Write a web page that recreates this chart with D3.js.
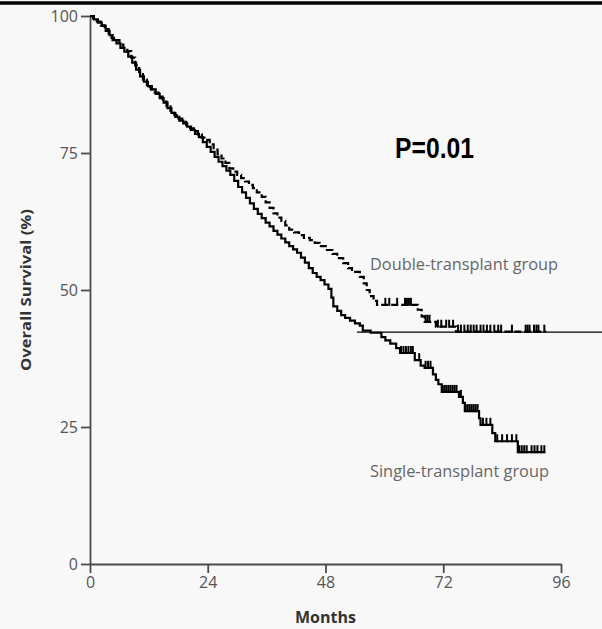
<!DOCTYPE html>
<html>
<head>
<meta charset="utf-8">
<script src="https://cdn.jsdelivr.net/npm/d3@7"></script>
<style>
  body { margin: 0; background: #f8f8f8; }
  svg { display: block; }
</style>
</head>
<body>
<div id="chart"></div>
<script>
// month, survival (%) after each drop
const singleSteps = [
  [0, 100], [0.8, 99.4], [1.6, 98.8], [2.4, 98.2], [3.2, 97.3], [4.0, 96.5], [4.6, 95.6], [5.4, 95.0],
  [6.2, 94.2], [7.0, 93.5], [7.8, 92.6], [8.6, 91.5], [9.4, 90.2], [10.2, 89.0], [11.0, 88.0], [11.8, 87.2],
  [12.6, 86.6], [13.4, 85.8], [14.2, 85.0], [15.0, 84.2], [15.8, 83.2], [16.6, 82.3], [17.4, 81.6], [18.2, 80.9],
  [19.0, 80.4], [19.8, 79.8], [20.6, 79.2], [21.4, 78.5], [22.2, 77.9], [23.0, 77.0], [23.8, 76.1], [24.6, 75.2],
  [25.4, 74.3], [26.2, 73.4], [27.0, 72.6], [27.8, 71.8], [28.6, 71.0], [29.4, 69.9], [30.2, 68.8], [31.0, 67.8],
  [31.8, 66.8], [32.6, 65.8], [33.4, 64.8], [34.2, 63.9], [35.0, 63.1], [35.8, 62.3], [36.6, 61.6], [37.4, 60.8],
  [38.2, 60.1], [39.0, 59.4], [39.8, 58.7], [40.6, 58.0], [41.4, 57.4], [42.2, 56.8], [43.0, 55.9], [43.8, 55.0],
  [44.6, 54.0], [45.4, 53.1], [46.2, 52.4], [47.0, 51.8], [47.8, 51.0], [48.6, 50.2], [49.2, 48.6], [49.6, 47.0],
  [50.4, 46.2], [51.2, 45.4], [52.0, 44.9], [53.0, 44.4], [54.0, 43.9], [55.0, 43.5], [55.6, 42.6], [57.2, 42.2],
  [59.4, 41.4], [60.2, 40.8], [61.2, 40.2], [62.4, 39.4], [63.2, 38.5], [66.2, 37.2], [67.4, 36.2], [68.2, 35.8],
  [69.9, 34.6], [70.5, 33.6], [71.0, 32.8], [71.7, 31.4], [75.2, 30.5], [76.0, 29.4], [76.4, 27.9], [79.3, 26.6],
  [79.6, 25.4], [82.0, 23.9], [82.6, 22.4], [87.2, 20.4], [92.8, 20.4]
]

const doubleSteps = [
  [0, 100], [0.6, 99.6], [1.4, 99.0], [2.2, 98.3], [3.0, 97.6], [3.8, 96.8], [4.4, 96.0], [5.2, 95.6],
  [6.0, 94.8], [6.8, 94.2], [7.6, 93.6], [8.4, 92.4], [9.2, 91.0], [10.0, 89.8], [10.8, 88.4], [11.6, 87.0],
  [12.4, 86.6], [13.2, 86.0], [14.0, 85.3], [14.8, 84.4], [15.6, 83.5], [16.4, 82.7], [17.2, 81.9], [18.0, 81.3],
  [18.8, 80.7], [19.6, 80.1], [20.4, 79.5], [21.2, 79.0], [22.0, 78.4], [22.8, 77.8], [23.6, 77.4], [24.4, 76.6],
  [25.2, 75.6], [26.0, 74.8], [26.8, 74.0], [27.6, 73.2], [28.4, 72.2], [29.2, 71.6], [30.0, 71.0], [30.8, 70.4],
  [31.6, 69.8], [32.4, 69.2], [33.2, 68.6], [34.0, 67.8], [35.0, 67.0], [35.8, 66.0], [36.6, 65.0], [37.4, 64.0],
  [38.2, 63.2], [39.0, 62.6], [39.8, 61.8], [40.6, 61.0], [41.6, 60.5], [42.6, 60.0], [43.6, 59.5], [44.8, 59.1],
  [45.8, 58.6], [46.8, 58.0], [48.3, 57.3], [49.4, 56.6], [50.4, 55.8], [51.6, 54.9], [52.6, 54.0], [53.4, 53.3],
  [55.0, 52.4], [55.8, 51.2], [56.4, 50.0], [57.0, 48.9], [57.8, 48.0], [58.5, 47.3], [66.8, 46.4], [67.6, 45.2],
  [68.2, 44.2], [70.5, 43.3], [74.6, 42.4], [93.0, 42.4]
]

// censored patients (months)
const singleCensored = [63.4, 63.9, 64.4, 64.9, 65.4, 65.8, 67.1, 68.4, 68.9, 69.4, 71.9, 72.3, 72.7, 73.1, 73.5,
  73.9, 74.3, 74.7, 75.6, 76.6, 77.0, 77.4, 77.8, 78.2, 78.6, 79.0, 80.1, 80.8, 81.6, 83.0, 84.0, 85.0, 86.0,
  86.9, 87.5, 88.0, 88.5, 89.0, 90.0, 90.6, 91.2, 92.0, 92.6]
const doubleCensored = [60.2, 61.0, 62.6, 64.2, 64.6, 65.0, 65.4, 68.4, 68.8, 69.2, 70.9, 71.6, 72.6, 73.2, 74.0,
  75.0, 75.6, 76.3, 77.0, 77.6, 78.2, 78.8, 79.6, 80.2, 80.9, 81.6, 82.4, 83.2, 83.8, 86.0, 88.8, 89.2, 89.6,
  90.5, 91.0, 91.4, 92.6]

// horizontal reference line
const refLevel = 42.3
const refMonths = [54.4, 104.4]

const xTicks = [0, 24, 48, 72, 96]
const yTicks = [0, 25, 50, 75, 100]

const width = 602
const height = 629

const svg = d3.select('#chart')
  .append('svg')
  .attr('width', width)
  .attr('height', height)

svg.append('rect')
  .attr('width', width)
  .attr('height', height)
  .attr('fill', '#f8f8f8')

// top rule
svg.append('line')
  .attr('x1', 0).attr('x2', width)
  .attr('y1', 3).attr('y2', 3)
  .attr('stroke', '#000')
  .attr('stroke-width', 3.5)

const x = d3.scaleLinear().domain([0, 96]).range([90, 561])
const y = d3.scaleLinear().domain([0, 100]).range([564, 16])

const yAxis = d3.axisLeft(y).tickValues(yTicks).tickSize(9).tickSizeOuter(0).tickPadding(3)
const xAxis = d3.axisBottom(x).tickValues(xTicks).tickSize(9).tickSizeOuter(0).tickPadding(4)

svg.append('g')
  .attr('class', 'axis y-axis')
  .attr('transform', `translate(${x(0)},0)`)
  .call(yAxis)

svg.append('g')
  .attr('class', 'axis x-axis')
  .attr('transform', `translate(0,${y(0)})`)
  .call(xAxis)

svg.selectAll('.axis path, .axis line')
  .attr('stroke', '#4a4a4a')
  .attr('stroke-width', 1.8)

svg.selectAll('.axis text')
  .attr('font-family', 'Open Sans, sans-serif')
  .attr('font-size', 16)
  .attr('fill', '#555')

svg.selectAll('.y-axis text').attr('dy', '0.35em')

// reference line
svg.append('line')
  .attr('x1', x(refMonths[0]))
  .attr('x2', x(refMonths[1]))
  .attr('y1', y(refLevel))
  .attr('y2', y(refLevel))
  .attr('stroke', '#000')
  .attr('stroke-width', 1.2)

const line = d3.line()
  .x(d => x(d[0]))
  .y(d => y(d[1]))
  .curve(d3.curveStepAfter)

svg.append('path')
  .datum(singleSteps)
  .attr('d', line)
  .attr('fill', 'none')
  .attr('stroke', '#000')
  .attr('stroke-width', 2.2)

svg.append('path')
  .datum(doubleSteps)
  .attr('d', line)
  .attr('fill', 'none')
  .attr('stroke', '#000')
  .attr('stroke-width', 2.2)
  .attr('stroke-dasharray', '7,3')

// survival level at a given month
function levelAt(steps, t) {
  let v = steps[0][1]
  steps.forEach(s => { if (s[0] <= t) v = s[1] })
  return v
}

function drawCensors(times, steps) {
  svg.append('g')
    .selectAll('line')
    .data(times)
    .enter()
    .append('line')
    .attr('x1', d => x(d))
    .attr('x2', d => x(d))
    .attr('y1', d => y(levelAt(steps, d)) + 1)
    .attr('y2', d => y(levelAt(steps, d)) - 7)
    .attr('stroke', '#000')
    .attr('stroke-width', 2)
}

drawCensors(singleCensored, singleSteps)
drawCensors(doubleCensored, doubleSteps)

// labels
svg.append('text')
  .text('Double-transplant group')
  .attr('x', 370)
  .attr('y', 270)
  .attr('font-family', 'Open Sans, sans-serif')
  .attr('font-size', 16)
  .attr('fill', '#666')
  .attr('textLength', 188)
  .attr('lengthAdjust', 'spacingAndGlyphs')

svg.append('text')
  .text('Single-transplant group')
  .attr('x', 370)
  .attr('y', 477)
  .attr('font-family', 'Open Sans, sans-serif')
  .attr('font-size', 16)
  .attr('fill', '#666')
  .attr('textLength', 179)
  .attr('lengthAdjust', 'spacingAndGlyphs')

svg.append('text')
  .text('P=0.01')
  .attr('x', 395)
  .attr('y', 158)
  .attr('font-family', 'Liberation Sans, Arial, sans-serif')
  .attr('font-weight', 'bold')
  .attr('font-size', 29)
  .attr('fill', '#000')
  .attr('textLength', 79)
  .attr('lengthAdjust', 'spacingAndGlyphs')

svg.append('text')
  .text('Months')
  .attr('x', x(48))
  .attr('y', 623)
  .attr('text-anchor', 'middle')
  .attr('font-family', 'Open Sans, sans-serif')
  .attr('font-weight', 'bold')
  .attr('font-size', 16)
  .attr('fill', '#333')

svg.append('text')
  .text('Overall Survival (%)')
  .attr('transform', `translate(31,${y(50)}) rotate(-90)`)
  .attr('text-anchor', 'middle')
  .attr('font-family', 'Open Sans, sans-serif')
  .attr('font-weight', 'bold')
  .attr('font-size', 15)
  .attr('fill', '#333')
  .attr('textLength', 162)
  .attr('lengthAdjust', 'spacingAndGlyphs')
</script>
</body>
</html>
